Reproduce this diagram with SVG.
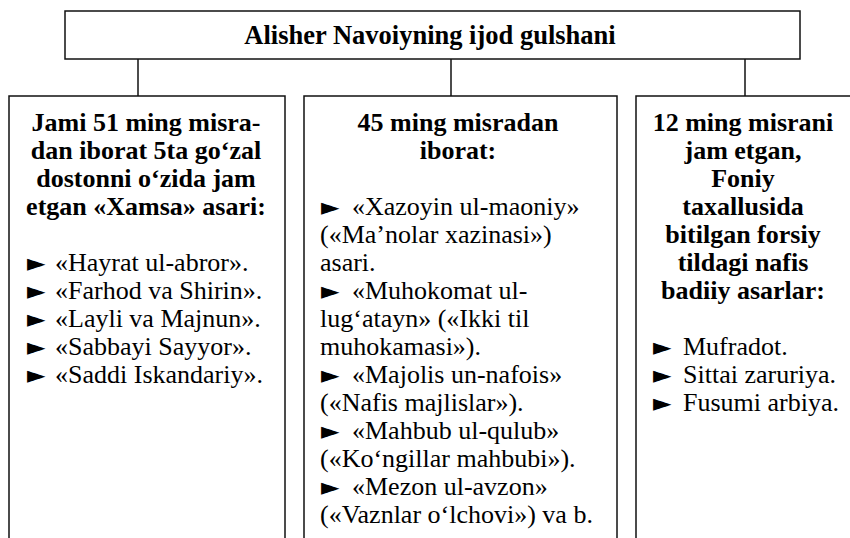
<svg xmlns="http://www.w3.org/2000/svg" width="850" height="538" viewBox="0 0 850 538">
<style>
.box{fill:#fff;stroke:#111;stroke-width:1.5}
.ln{stroke:#111;stroke-width:1.5;fill:none}
.t{font-family:"Liberation Serif","Times New Roman",serif;font-size:26px;fill:#000}
.b{font-weight:bold;text-anchor:middle}
.tt{font-family:"Liberation Serif","Times New Roman",serif;font-size:26.5px;font-weight:bold;text-anchor:middle;fill:#000}
.m{font-family:"DejaVu Sans",sans-serif;font-size:24px}
</style>
<rect width="850" height="538" fill="#fff"/>
<g id="connectors">
<line class="ln" x1="138" y1="59" x2="138" y2="96"/>
<line class="ln" x1="451" y1="59" x2="451" y2="96"/>
<line class="ln" x1="745" y1="59" x2="745" y2="96"/>
</g>
<g id="root">
<rect class="box" x="65" y="11" width="735" height="48"/>
<text class="tt" x="430" y="44">Alisher Navoiyning ijod gulshani</text>
</g>
<g id="xamsa">
<rect class="box" x="9" y="96" width="276" height="460"/>
<text class="t b" x="146" y="131">Jami 51 ming misra-</text>
<text class="t b" x="146" y="159">dan iborat 5ta go‘zal</text>
<text class="t b" x="146" y="187">dostonni o‘zida jam</text>
<text class="t b" x="146" y="215">etgan «Xamsa» asari:</text>
<text class="t" y="271"><tspan class="m" x="27">►</tspan><tspan x="55">«Hayrat ul-abror».</tspan></text>
<text class="t" y="299"><tspan class="m" x="27">►</tspan><tspan x="55">«Farhod va Shirin».</tspan></text>
<text class="t" y="327"><tspan class="m" x="27">►</tspan><tspan x="55">«Layli va Majnun».</tspan></text>
<text class="t" y="355"><tspan class="m" x="27">►</tspan><tspan x="55">«Sabbayi Sayyor».</tspan></text>
<text class="t" y="383"><tspan class="m" x="27">►</tspan><tspan x="55">«Saddi Iskandariy».</tspan></text>
</g>
<g id="prose">
<rect class="box" x="304" y="96" width="313" height="460"/>
<text class="t b" x="458" y="131">45 ming misradan</text>
<text class="t b" x="458" y="159">iborat:</text>
<text class="t" y="215"><tspan class="m" x="321">►</tspan><tspan x="352">«Xazoyin ul-maoniy»</tspan></text>
<text class="t" x="320" y="243">(«Ma’nolar xazinasi»)</text>
<text class="t" x="320" y="271">asari.</text>
<text class="t" y="299"><tspan class="m" x="321">►</tspan><tspan x="352">«Muhokomat ul-</tspan></text>
<text class="t" x="320" y="327">lug‘atayn» («Ikki til</text>
<text class="t" x="320" y="355">muhokamasi»).</text>
<text class="t" y="383"><tspan class="m" x="321">►</tspan><tspan x="352">«Majolis un-nafois»</tspan></text>
<text class="t" x="320" y="411">(«Nafis majlislar»).</text>
<text class="t" y="439"><tspan class="m" x="321">►</tspan><tspan x="352">«Mahbub ul-qulub»</tspan></text>
<text class="t" x="320" y="467">(«Ko‘ngillar mahbubi»).</text>
<text class="t" y="495"><tspan class="m" x="321">►</tspan><tspan x="352">«Mezon ul-avzon»</tspan></text>
<text class="t" x="320" y="523">(«Vaznlar o‘lchovi») va b.</text>
</g>
<g id="foniy">
<rect class="box" x="636" y="96" width="220" height="460"/>
<text class="t b" x="743" y="131">12 ming misrani</text>
<text class="t b" x="743" y="159">jam etgan,</text>
<text class="t b" x="743" y="187">Foniy</text>
<text class="t b" x="743" y="215">taxallusida</text>
<text class="t b" x="743" y="243">bitilgan forsiy</text>
<text class="t b" x="743" y="271">tildagi nafis</text>
<text class="t b" x="743" y="299">badiiy asarlar:</text>
<text class="t" y="355"><tspan class="m" x="653">►</tspan><tspan x="683">Mufradot.</tspan></text>
<text class="t" y="383"><tspan class="m" x="653">►</tspan><tspan x="683">Sittai zaruriya.</tspan></text>
<text class="t" y="411"><tspan class="m" x="653">►</tspan><tspan x="683">Fusumi arbiya.</tspan></text>
</g>
</svg>
